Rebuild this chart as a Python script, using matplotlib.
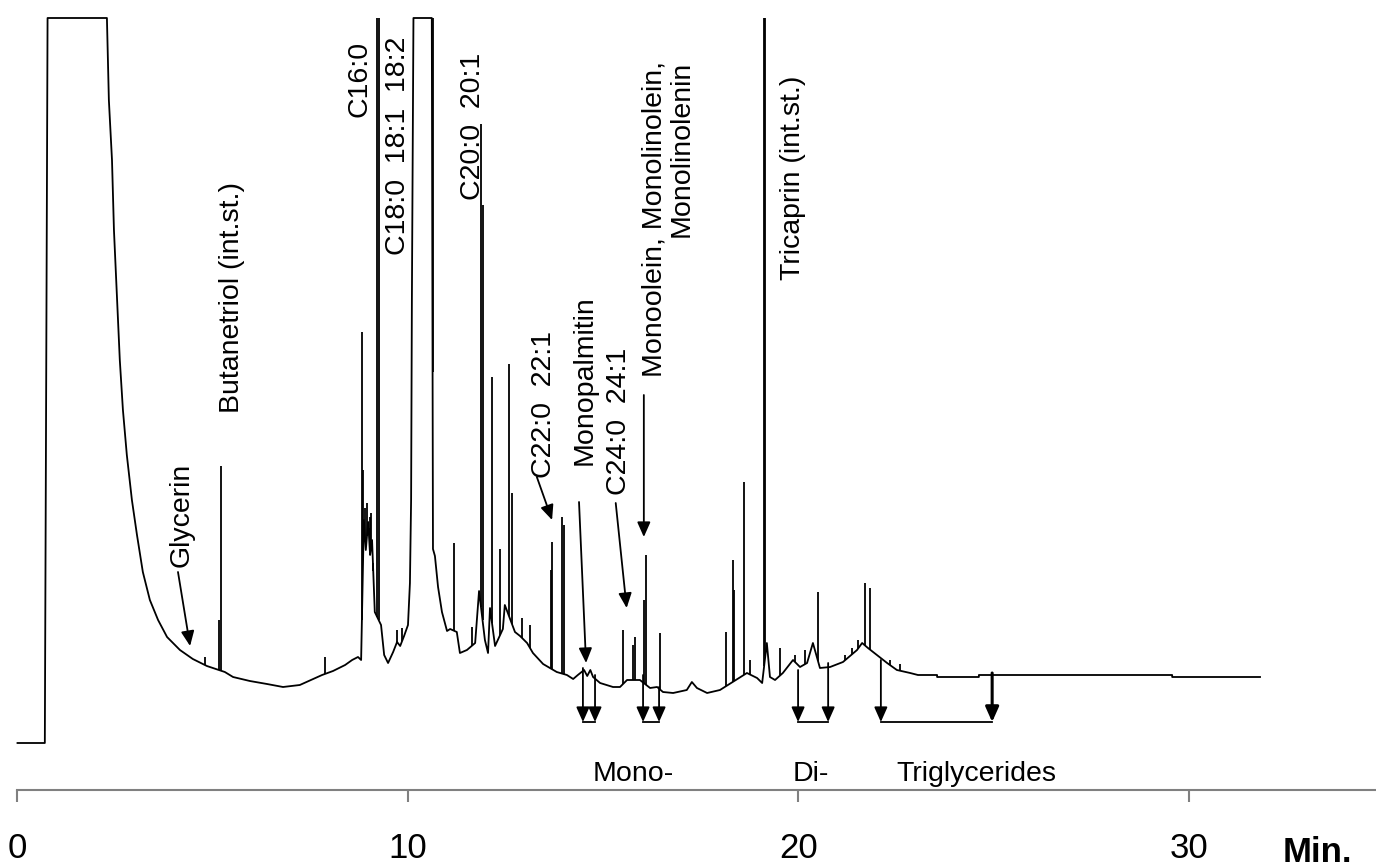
import numpy as np
import matplotlib
matplotlib.use('Agg')
import matplotlib.pyplot as plt

plt.rcParams['font.family'] = ['Liberation Sans', 'DejaVu Sans']

# chromatogram trace (retention time in min, detector response)
trace_t = [0.00, 0.70, 0.73, 0.77, 2.29, 2.34, 2.42, 2.47, 2.55, 2.62, 2.70, 2.80, 2.93, 3.06,
           3.21, 3.39, 3.60, 3.83, 4.16, 4.49, 4.85, 5.16, 5.31, 5.52, 5.95, 6.39, 6.80, 7.23,
           7.57, 7.80, 8.08, 8.39, 8.57, 8.72, 8.80, 8.87, 8.92, 8.98, 9.03, 9.08, 9.15, 9.31,
           9.39, 9.49, 9.62, 9.72, 9.80, 9.90, 10.00, 10.05, 10.08, 10.10, 10.14, 10.61, 10.64,
           10.69, 10.77, 10.87, 11.00, 11.08, 11.25, 11.33, 11.51, 11.72, 11.82, 11.97, 12.05,
           12.10, 12.23, 12.43, 12.48, 12.74, 12.87, 13.05, 13.20, 13.46, 13.59, 13.81, 14.07,
           14.23, 14.35, 14.51, 14.59, 14.67, 14.74, 14.92, 15.25, 15.43, 15.61, 15.94, 16.20,
           16.38, 16.53, 16.79, 17.14, 17.27, 17.40, 17.66, 17.99, 18.68, 18.94, 19.07, 19.19,
           19.27, 19.40, 19.60, 19.86, 20.04, 20.22, 20.37, 20.55, 20.81, 21.14, 21.50, 21.63,
           21.78, 22.01, 22.27, 22.52, 22.86, 23.06, 23.55, 23.55, 24.62, 24.62, 29.57, 29.57,
           31.82]
trace_s = [0, 0, 323, 725, 725, 643, 583, 513, 443, 383, 333, 288, 243, 208,
           171, 143, 123, 106, 93, 84, 77, 73, 71, 66, 62, 59, 56, 58,
           64, 68, 72, 78, 83, 86, 83, 223, 193, 221, 188, 203, 131, 118,
           88, 80, 91, 101, 97, 107, 118, 160, 243, 443, 725, 725, 194,
           187, 156, 131, 112, 114, 111, 90, 93, 100, 152, 103, 90,
           135, 97, 114, 138, 111, 107, 100, 90, 79, 76, 71, 68,
           64, 68, 73, 67, 73, 66, 60, 56, 56, 63, 63, 55,
           56, 51, 50, 53, 61, 55, 50, 53, 70, 65, 60, 100,
           66, 63, 70, 83, 76, 80, 100, 75, 76, 81, 93, 100,
           95, 88, 80, 73, 70, 68, 68, 66, 66, 68, 68, 66,
           66]

# narrow peaks (apex time, apex response), big ones and the small bumps
peak_t = [4.80, 5.17, 5.20, 7.88, 8.82, 8.85, 8.90, 8.95, 9.00, 9.03, 9.06, 9.11, 9.21, 9.25,
          9.72, 9.85, 10.63, 11.18, 11.64, 11.87, 11.91, 12.15, 12.36, 12.59, 12.66, 12.92,
          13.12, 13.65, 13.69, 13.94, 13.99, 15.51, 15.76, 15.81, 16.04, 16.09, 16.45, 18.14,
          18.32, 18.36, 18.60, 18.76, 19.12, 19.15, 19.53, 19.91, 20.17, 20.50, 21.19, 21.37,
          21.52, 21.70, 21.83, 22.34, 22.60]
peak_s = [86, 123, 277, 86, 411, 273, 235, 240, 215, 226, 230, 180, 725, 725,
          113, 115, 725, 200, 116, 619, 538, 366, 194, 379, 250, 125,
          118, 173, 201, 226, 218, 113, 98, 106, 143, 188, 110, 111,
          183, 153, 261, 83, 725, 725, 95, 88, 93, 151, 88, 95,
          103, 160, 155, 83, 79]

# peak names
labels = ["Glycerin", "Butanetriol (int.st.)", "C16:0", "C18:0  18:1  18:2", "C20:0  20:1",
          "C22:0  22:1", "Monopalmitin", "C24:0  24:1",
          "Monoolein, Monolinolein,\nMonolinolenin", "Tricaprin (int.st.)"]
label_t = [4.21, 5.49, 8.77, 9.74, 11.66, 13.48, 14.53, 15.40, 16.66, 19.86]
label_s = [176, 330, 626, 488, 543, 265, 278, 248, 366, 463]

# pointer arrows for some names
arrow_from = [(4.11, 171), (13.30, 266), (14.38, 241), (15.32, 240), (16.04, 348)]
arrow_to = [(4.42, 97), (13.69, 223), (14.56, 80), (15.60, 135), (16.04, 206)]

# glyceride fraction windows
frac_names = ["Mono-", "Di-", "Triglycerides"]
frac_name_t = [14.74, 19.86, 22.51]
frac_t = [14.48, 14.79, 16.02, 16.43, 19.99, 20.76, 22.11, 24.96]
frac_top = [75, 68, 68, 56, 73, 80, 83, 70]
frac_pairs = [(0, 1), (2, 3), (4, 5), (6, 7)]
frac_bottom = 21

x_ticks = [0, 10, 20, 30]
x_tick_labels = ["0", "10", "20", "30"]


fig = plt.figure(figsize=(13.76, 8.67), dpi=100)
ax = fig.add_axes([0, 0, 1, 1])
ax.set_xlim(-0.448, 34.79)
ax.set_ylim(-124, 743)

ax.plot(trace_t, trace_s, color='black', lw=1.3)
foot = np.interp(peak_t, trace_t, trace_s)
ax.vlines(peak_t, foot, peak_s, color='black', lw=1.3)

for txt, t, s in zip(labels, label_t, label_s):
    ax.text(t, s, txt, rotation=90, ha='center', va='bottom', fontsize=20.5,
            multialignment='right', linespacing=1.1)

head = '-|>,head_length=0.45,head_width=0.2'
for a, b in zip(arrow_from, arrow_to):
    ax.annotate('', xy=b, xytext=a,
                arrowprops=dict(arrowstyle=head, color='black', lw=1.3,
                                shrinkA=0, shrinkB=0, mutation_scale=20))

for i, (t, top) in enumerate(zip(frac_t, frac_top)):
    ax.annotate('', xy=(t, frac_bottom), xytext=(t, top),
                arrowprops=dict(arrowstyle=head, color='black',
                                lw=2.2 if i == 7 else 1.3,
                                shrinkA=0, shrinkB=0, mutation_scale=20))
for i, j in frac_pairs:
    ax.plot([frac_t[i], frac_t[j]], [frac_bottom, frac_bottom], color='black', lw=1.3)

for name, t in zip(frac_names, frac_name_t):
    ax.text(t, -38, name, ha='left', va='baseline', fontsize=20.5)

for side in ['left', 'top', 'right']:
    ax.spines[side].set_visible(False)
ax.spines['bottom'].set_position(('data', -47))
ax.spines['bottom'].set_color('#808080')
ax.spines['bottom'].set_linewidth(1.5)
ax.spines['bottom'].set_bounds(0, 34.79)
ax.set_yticks([])
ax.set_xticks(x_ticks, labels=x_tick_labels)
ax.tick_params(axis='x', length=8.6, width=1.5, color='#808080', labelsize=25, pad=22)

ax.text(33.3, -119, "Min.", ha='center', va='baseline', fontsize=25, fontweight='bold')

fig.savefig('out.png', dpi=100)
